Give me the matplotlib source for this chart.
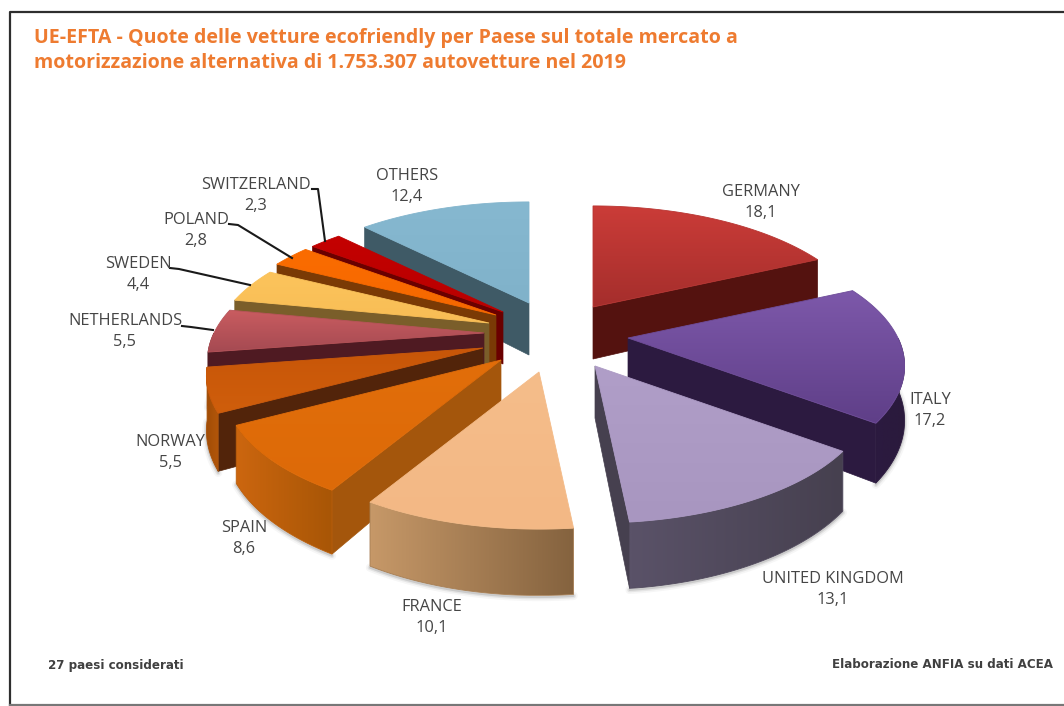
import matplotlib
matplotlib.use('Agg')
import matplotlib.pyplot as plt
from matplotlib.colors import to_rgb
from matplotlib.patches import Polygon
import numpy as np

countries = ['GERMANY', 'ITALY', 'UNITED KINGDOM', 'FRANCE', 'SPAIN', 'NORWAY',
             'NETHERLANDS', 'SWEDEN', 'POLAND', 'SWITZERLAND', 'OTHERS']
shares = [18.1, 17.2, 13.1, 10.1, 8.6, 5.5, 5.5, 4.4, 2.8, 2.3, 12.4]

title_lines = ['UE-EFTA - Quote delle vetture ecofriendly per Paese sul totale mercato a',
               'motorizzazione alternativa di 1.753.307 autovetture nel 2019']
note_left = '27 paesi considerati'
note_right = 'Elaborazione ANFIA su dati ACEA'

# pie projection, in pixels
CX, CY = 530, 340
RX, RY = 270, 123
PERSP = 0.217
DEPTH = 52

# how far each slice is pulled out of the pie
shift_x = [63, 98, 65, 9, -29, -47, -46, -41, -34, -27, -1]
shift_y = [-33, -2, 26, 32, 20, 8, -7, -17, -25, -28, -37]

# top start/end colour, outer wall left/right colour, cut face colour
top_cols = [('#cb3c38', '#a52e2c'), ('#7d58aa', '#5f3f88'), ('#b09ec8', '#a896c0'),
            ('#f5bd8a', '#f3b885'), ('#e26e0a', '#dd6a08'), ('#c85608', '#cf5e0c'),
            ('#c95c60', '#a54a52'), ('#fcc45c', '#f8bd55'), ('#fb6c00', '#f56800'),
            ('#c40000', '#b80000'), ('#86b8d0', '#80b2ca')]
wall_cols = [('#54120f', '#54120f'), ('#2c1a40', '#2a1a3c'), ('#5a5268', '#46404f'),
             ('#c69868', '#85633f'), ('#cc660f', '#a85606'), ('#a04c06', '#b2560a'),
             ('#4f1a22', '#4f1a22'), ('#7a5e2a', '#7a5e2a'), ('#7a3a05', '#7a3a05'),
             ('#6a0000', '#6a0000'), ('#3f5a66', '#3f5a66')]
face_cols = ['#54120f', '#2c1a40', '#46404f', '#85633f', '#a4560c', '#52240a',
             '#4f1a22', '#7a5e2a', '#7a3a05', '#6a0000', '#3f5a66']

# back slices first, the front ones cover them
draw_order = [0, 1, 2, 10, 9, 8, 7, 6, 5, 4, 3]

label_x = [761, 930, 833, 432, 244, 170, 125, 138, 196, 256, 407]
label_y = [192, 400, 579, 607, 528, 442, 321, 264, 220, 185, 176]

# leader lines, only for the narrow slices: label end, elbow, slice end
leader_x = [(182, 191, 213), (170, 179, 250), (229, 238, 292), (312, 318, 325)]
leader_y = [(326, 327, 330), (268, 269, 285), (224, 225, 258), (189, 189, 241)]

fig = plt.figure(figsize=(10.64, 7.06), dpi=100)
ax = fig.add_axes([0, 0, 1, 1])
ax.set_xlim(0, 1064)
ax.set_ylim(706, 0)
ax.axis('off')


def project(i, t, r, h):
    v = -r * np.cos(t)
    f = 1.0 / (1.0 - PERSP * v)
    x = CX + shift_x[i] + RX * r * np.sin(t) * f
    y = CY + shift_y[i] + (RY * v + h) * f
    return np.column_stack([x, y])


def gradient_patch(pts, c0, c1, vertical, z):
    # imshow clipped by a polygon, with a thin edge to hide the jaggies
    x0, x1 = pts[:, 0].min(), pts[:, 0].max()
    y0, y1 = pts[:, 1].min(), pts[:, 1].max()
    s = np.linspace(0, 1, 64)
    c0, c1 = np.array(to_rgb(c0)), np.array(to_rgb(c1))
    rgb = c0[None, :] * (1 - s[:, None]) + c1[None, :] * s[:, None]
    img = rgb[:, None, :] if vertical else rgb[None, :, :]
    im = ax.imshow(img, extent=(x0, x1, y1, y0), aspect='auto', zorder=z,
                   interpolation='bilinear')
    clip = Polygon(pts, closed=True, transform=ax.transData, fc='none', ec='none')
    ax.add_patch(clip)
    im.set_clip_path(clip)
    mid = tuple((c0 + c1) / 2)
    ax.add_patch(Polygon(pts, closed=True, fc='none', ec=mid, lw=0.6, zorder=z))


edges = np.cumsum([0] + shares) / sum(shares) * 2 * np.pi
z = 2
for i in draw_order:
    t0, t1 = edges[i], edges[i + 1]
    arc = np.linspace(t0, t1, 80)
    apex_top = project(i, 0.0, 0.0, 0.0)
    apex_bot = project(i, 0.0, 0.0, DEPTH)

    # soft shadow along the lower rim
    front = arc[np.cos(arc) < 0]
    if len(front) > 1:
        rim = project(i, front, 1.0, DEPTH)
        for lw, a in [(6, 0.05), (3.5, 0.10), (1.5, 0.18)]:
            ax.plot(rim[:, 0], rim[:, 1] + 1.5, color='#555555', lw=lw, alpha=a,
                    zorder=z, solid_capstyle='round')

    # cut faces that look towards the viewer
    for t, side in [(t0, -1), (t1, 1)]:
        if -np.cos(t + side * np.pi / 2) > 0.02:
            edge_top = project(i, np.array([t]), 1.0, 0.0)
            edge_bot = project(i, np.array([t]), 1.0, DEPTH)
            pts = np.vstack([apex_top, edge_top, edge_bot, apex_bot])
            ax.add_patch(Polygon(pts, closed=True, fc=face_cols[i], ec=face_cols[i],
                                 lw=0.5, zorder=z))

    # outer wall, front half of the rim only
    if len(front) > 1:
        upper = project(i, front, 1.0, 0.0)
        lower = project(i, front, 1.0, DEPTH)
        pts = np.vstack([upper, lower[::-1]])
        gradient_patch(pts, wall_cols[i][0], wall_cols[i][1], False, z)

    # top surface
    top = np.vstack([apex_top, project(i, arc, 1.0, 0.0)])
    gradient_patch(top, top_cols[i][0], top_cols[i][1], True, z + 0.5)
    z += 1

text_col = '#454545'
for i, name in enumerate(countries):
    value = f'{shares[i]:.1f}'.replace('.', ',')
    ax.text(label_x[i], label_y[i], name, ha='center', va='center', color=text_col,
            fontsize=11.8, family='Open Sans', zorder=50)
    ax.text(label_x[i], label_y[i] + 21, value, ha='center', va='center', color=text_col,
            fontsize=11.8, family='Open Sans', zorder=50)

for lx, ly in zip(leader_x, leader_y):
    ax.plot(lx, ly, color='#1a1a1a', lw=1.5, zorder=49)

ax.text(34, 38.5, title_lines[0], color='#ee7b30', fontsize=14.1, fontweight='bold',
        family='Open Sans', va='center', ha='left', zorder=50)
ax.text(34, 62.5, title_lines[1], color='#ee7b30', fontsize=14.1, fontweight='bold',
        family='Open Sans', va='center', ha='left', zorder=50)

ax.text(48, 665, note_left, color='#404040', fontsize=8.6, fontweight='bold',
        family='DejaVu Sans', va='center', ha='left', zorder=50)
ax.text(1053, 665, note_right, color='#404040', fontsize=8.6, fontweight='bold',
        family='DejaVu Sans', va='center', ha='right', zorder=50)

# slide frame
ax.plot([1064, 10, 10], [12, 12, 705], color='#2e2e2e', lw=1.6, zorder=60)
ax.plot([10, 1064], [705, 705], color='#777777', lw=1.6, zorder=60)

ax.set_xlim(0, 1064)
ax.set_ylim(706, 0)
fig.savefig('out.png', dpi=100)
